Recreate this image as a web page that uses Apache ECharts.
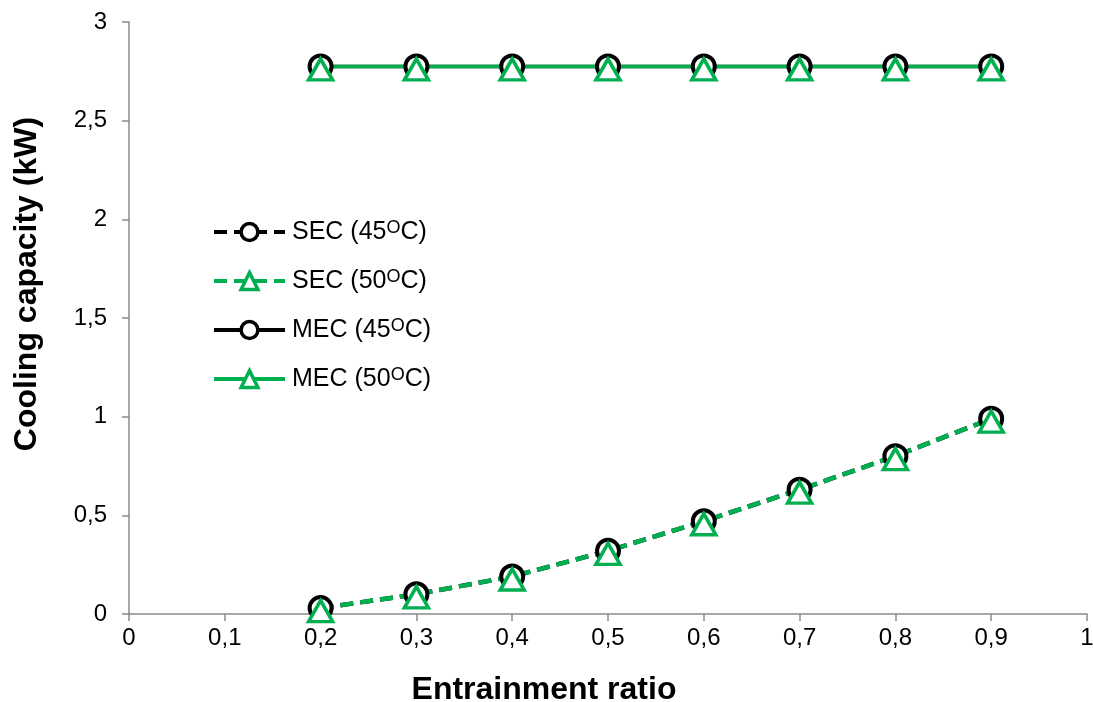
<!DOCTYPE html>
<html><head><meta charset="utf-8">
<script src="https://cdn.jsdelivr.net/npm/echarts@6/dist/echarts.min.js"></script>
<style>html,body{margin:0;padding:0;background:#fff}#c{width:1093px;height:702px}</style>
</head><body><div id="c"></div>
<script>
const ratios = [0.2, 0.3, 0.4, 0.5, 0.6, 0.7, 0.8, 0.9];
const sec45 = [0.03, 0.10, 0.19, 0.32, 0.47, 0.63, 0.80, 0.99];
const sec50 = [0.03, 0.10, 0.19, 0.32, 0.47, 0.63, 0.80, 0.99];
const mec45 = [2.775, 2.775, 2.775, 2.775, 2.775, 2.775, 2.775, 2.775];
const mec50 = [2.775, 2.775, 2.775, 2.775, 2.775, 2.775, 2.775, 2.775];
const names = ['SEC (45{s|O}C)', 'SEC (50{s|O}C)', 'MEC (45{s|O}C)', 'MEC (50{s|O}C)'];
const keys = ['SEC45', 'SEC50', 'MEC45', 'MEC50'];

const GREEN = '#00B050';
const AXIS = '#8a8a8a';
const FONT = 'Liberation Sans, Arial, sans-serif';
const fmt = v => String(v).replace('.', ',');
const pair = arr => ratios.map((x, i) => [x, arr[i]]);

function mk(key, data, color, dashed, symbol) {
  const circ = symbol === 'circle';
  return {
    name: key, type: 'line', data: pair(data),
    symbol: symbol, symbolSize: circ ? 22 : [24, 21],
    symbolOffset: circ ? [0, 0] : [0, 3],
    lineStyle: { color: color, width: dashed ? 4.5 : 3.5, type: dashed ? [13, 7] : 'solid' },
    itemStyle: { color: '#fff', borderColor: color, borderWidth: circ ? 4 : 3.5 },
    z: 2
  };
}

const chart = echarts.init(document.getElementById('c'));
chart.setOption({
  animation: false,
  textStyle: { fontFamily: FONT },
  grid: { left: 129, right: 6, top: 22, bottom: 88, outerBoundsMode: 'none', containLabel: false },
  legend: {
    left: 207, top: 214, orient: 'vertical', itemGap: 23,
    itemWidth: 71, itemHeight: 21,
    data: keys,
    formatter: n => names[keys.indexOf(n)],
    lineStyle: { width: 4 },
    itemStyle: { borderWidth: 3.5 },
    textStyle: {
      fontSize: 25, color: '#000', fontFamily: FONT, lineHeight: 26, padding: [0, 0, 0, 2],
      rich: { s: { fontSize: 18, lineHeight: 26, verticalAlign: 'top', color: '#000', fontFamily: FONT } }
    }
  },
  xAxis: {
    type: 'value', min: 0, max: 1, interval: 0.1,
    name: 'Entrainment ratio', nameLocation: 'middle', nameGap: 60,
    nameTextStyle: { fontSize: 32, fontWeight: 'bold', color: '#000', fontFamily: FONT, padding: [0, 128, 0, 0] },
    axisLine: { lineStyle: { color: AXIS, width: 1.5 } },
    axisTick: { show: true, length: 7, lineStyle: { color: AXIS, width: 1.5 } },
    axisLabel: { fontSize: 24, color: '#000', margin: 12, formatter: v => fmt(Math.round(v * 10) / 10) },
    splitLine: { show: false }
  },
  yAxis: {
    type: 'value', min: 0, max: 3, interval: 0.5,
    name: 'Cooling capacity (kW)', nameLocation: 'middle', nameGap: 86, nameRotate: 90,
    nameTextStyle: { fontSize: 32, fontWeight: 'bold', color: '#000', fontFamily: FONT, padding: [0, 0, 0, 68] },
    axisLine: { show: true, lineStyle: { color: AXIS, width: 1.5 } },
    axisTick: { show: true, length: 7, lineStyle: { color: AXIS, width: 1.5 } },
    axisLabel: { fontSize: 24, color: '#000', margin: 22, formatter: v => fmt(v) },
    splitLine: { show: false }
  },
  series: [
    mk('SEC45', sec45, '#000', true, 'circle'),
    mk('SEC50', sec50, GREEN, true, 'triangle'),
    mk('MEC45', mec45, '#000', false, 'circle'),
    mk('MEC50', mec50, GREEN, false, 'triangle')
  ]
});
</script></body></html>
